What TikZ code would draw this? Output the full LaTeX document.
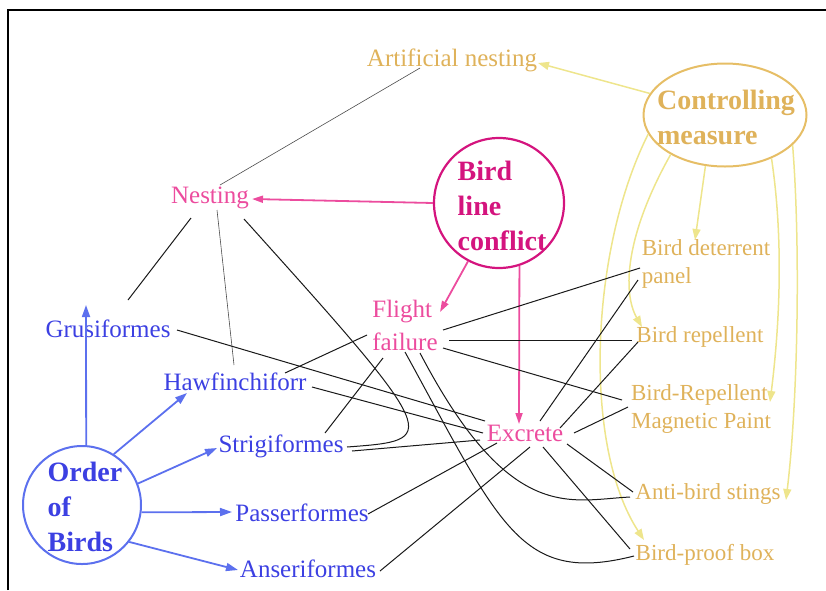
\documentclass[tikz,border=0pt]{standalone}
\usepackage{fontspec}
\setmainfont{Liberation Serif}
\usetikzlibrary{arrows.meta, shapes.geometric}
\definecolor{gold}{HTML}{DFB25A}
\definecolor{goldline}{HTML}{E6BE66}
\definecolor{pale}{HTML}{EEE58C}
\definecolor{rose}{HTML}{EC4C9E}
\definecolor{magenta}{HTML}{D4147E}
\definecolor{indigo}{HTML}{3C40E2}
\definecolor{blueline}{HTML}{5C70EE}

\begin{document}
\begin{tikzpicture}[x = 1pt, y = -1pt]

\tikzset{
frame/.style = {line width = 2pt},
bluetext/.style = {text = indigo, font = \fontsize{25}{31}\selectfont, inner sep = 0pt},
rosetext/.style = {text = rose, font = \fontsize{25}{33}\selectfont, align = left, inner sep = 0pt},
goldtext/.style = {text = gold, font = \fontsize{23}{28.5}\selectfont, align = left, inner sep = 0pt},
boldtext/.style = {font = \bfseries\fontsize{28}{35}\selectfont, align = left, inner sep = 0pt},
order/.style = {circle, draw = blueline, line width = 2pt, minimum size = 118pt, inner sep = 0pt},
conflict/.style = {circle, draw = magenta, line width = 2.2pt, minimum size = 130pt, inner sep = 0pt},
control/.style = {ellipse, draw = goldline, line width = 2pt, minimum width = 163pt, minimum height = 103pt, inner sep = 0pt},
link/.style = {line width = 1pt, draw = black!90},
thinlink/.style = {line width = 0.6pt, draw = black!70},
bluearrow/.style = {-{Triangle[length = 12pt, width = 8pt]}, line width = 1.8pt, draw = blueline},
rosearrow/.style = {-{Triangle[length = 11pt, width = 7pt]}, line width = 1.8pt, draw = rose},
palearrow/.style = {-{Triangle[length = 11pt, width = 8pt]}, line width = 1.5pt, draw = pale},
	}

\useasboundingbox (0, 0) rectangle (826, 590);
\draw [frame] (8, 590) -- (8, 10) -- (826, 10);

% Circles and ellipse
\node at (82, 505) [order] (Order) {};
\node at (85, 507) [boldtext, text = indigo] (OrderText) {Order\\of\\Birds};
\node at (499, 203) [conflict] (Conflict) {};
\node at (502, 206) [boldtext, text = magenta] (ConflictText) {Bird\\line\\conflict};
\node at (725, 115) [control] (Control) {};
\node at (726, 117) [boldtext, text = gold] (ControlText) {Controlling\\measure};

% Orders
\node at (108, 329) [bluetext] (Gru) {Grusiformes};
\node at (235, 382) [bluetext] (Haw) {Hawfinchiforr};
\node at (281, 446) [bluetext] (Strig) {Strigiformes};
\node at (302, 513) [bluetext] (Pass) {Passerformes};
\node at (308, 569) [bluetext] (Anser) {Anseriformes};

% Conflicts
\node at (210, 198) [rosetext] (Nest) {Nesting};
\node at (405, 325) [rosetext] (Flight) {Flight\\failure};
\node at (525, 433) [rosetext] (Excrete) {Excrete};

% Measures
\node at (452, 60) [goldtext, font = \fontsize{25}{31}\selectfont] (Artif) {Artificial nesting};
\node at (706, 264) [goldtext] (Panel) {Bird deterrent\\panel};
\node at (700, 337) [goldtext] (Repel) {Bird repellent};
\node at (701, 409) [goldtext] (Paint) {Bird-Repellent\\Magnetic Paint};
\node at (708, 494) [goldtext] (Stings) {Anti-bird stings};
\node at (705, 555) [goldtext] (Box) {Bird-proof box};

% Order of birds
\draw [bluearrow] (Order.86) -- ([shift = {(-22, -24)}]Gru.center);
\draw [bluearrow] (Order.58) -- ([shift = {(-48, 11)}]Haw.center);
\draw [bluearrow] (Order.21) -- ([shift = {(-64, 2)}]Strig.center);
\draw [bluearrow] (Order.-7) -- ([shift = {(-70, -1)}]Pass.center);
\draw [bluearrow] (Order.-38) -- ([shift = {(-70, 1)}]Anser.center);

% Bird line conflict
\draw [rosearrow] (Conflict.west) -- ([shift = {(42, 1)}]Nest.center);
\draw [rosearrow] (Conflict.-118) -- ([shift = {(35, -13)}]Flight.center);
\draw [rosearrow] (Conflict.-72) -- ([shift = {(-6, -9)}]Excrete.center);

% Controlling measure
\draw [palearrow] (Control.164) -- ([shift = {(86, 3)}]Artif.center);
\draw [palearrow] (Control.-111) -- ([shift = {(-11, -24)}]Panel.center);
\draw [palearrow] (Control.-144) .. controls +(-45, 80) and +(-20, -35) .. ([shift = {(-58, -10)}]Repel.center);
\draw [palearrow] (Control.-166) .. controls +(-58, 115) and +(-62, -95) .. ([shift = {(-61, -15)}]Box.center);
\draw [palearrow] (Control.-43) .. controls +(12, 80) and +(10, -80) .. ([shift = {(69, -7)}]Paint.center);
\draw [palearrow] (Control.-24) .. controls +(8, 100) and +(12, -100) .. ([shift = {(78, 6)}]Stings.center);

% Nesting
\draw [thinlink] ([shift = {(-32, 8)}]Artif.center) -- ([shift = {(10, -13)}]Nest.center);
\draw [link] ([shift = {(-19, 20)}]Nest.center) -- ([shift = {(20, -29)}]Gru.center);
\draw [thinlink] ([shift = {(7, 12)}]Nest.center) -- ([shift = {(-1, -17)}]Haw.center);
\draw [link] ([shift = {(34, 21)}]Nest.center) .. controls +(200, 222) and +(93, -7) .. ([shift = {(66, 1)}]Strig.center);

% Flight failure
\draw [link] ([shift = {(38, 5)}]Flight.center) -- ([shift = {(-66, 4)}]Panel.center);
\draw [link] ([shift = {(44, 15)}]Flight.center) -- ([shift = {(-68, 3)}]Repel.center);
\draw [link] ([shift = {(38, 23)}]Flight.center) -- ([shift = {(-79, -9)}]Paint.center);
\draw [link] ([shift = {(-38, 10)}]Flight.center) -- ([shift = {(50, -9)}]Haw.center);
\draw [link] ([shift = {(-22, 33)}]Flight.center) -- ([shift = {(44, -13)}]Strig.center);
\draw [link] ([shift = {(15, 28)}]Flight.center) .. controls +(90, 172) and +(-60, 3) .. ([shift = {(-78, 3)}]Stings.center);
\draw [link] ([shift = {(0, 27)}]Flight.center) .. controls +(95, 173) and +(-114, 29) .. ([shift = {(-71, 1)}]Box.center);

% Excrete
\draw [link] ([shift = {(69, 1)}]Gru.center) -- ([shift = {(-40, -12)}]Excrete.center);
\draw [link] ([shift = {(77, 5)}]Haw.center) -- ([shift = {(-42, 0)}]Excrete.center);
\draw [link] ([shift = {(71, 5)}]Strig.center) -- ([shift = {(-45, 7)}]Excrete.center);
\draw [link] ([shift = {(66, 1)}]Pass.center) -- ([shift = {(-28, 10)}]Excrete.center);
\draw [link] ([shift = {(72, 2)}]Anser.center) -- ([shift = {(5, 14)}]Excrete.center);
\draw [link] ([shift = {(15, -12)}]Excrete.center) -- ([shift = {(-68, 16)}]Panel.center);
\draw [link] ([shift = {(35, -5)}]Excrete.center) -- ([shift = {(-62, 5)}]Repel.center);
\draw [link] ([shift = {(49, 0)}]Excrete.center) -- ([shift = {(-73, -2)}]Paint.center);
\draw [link] ([shift = {(42, 11)}]Excrete.center) -- ([shift = {(-75, -2)}]Stings.center);
\draw [link] ([shift = {(18, 14)}]Excrete.center) -- ([shift = {(-75, -6)}]Box.center);

\end{tikzpicture}
\end{document}
